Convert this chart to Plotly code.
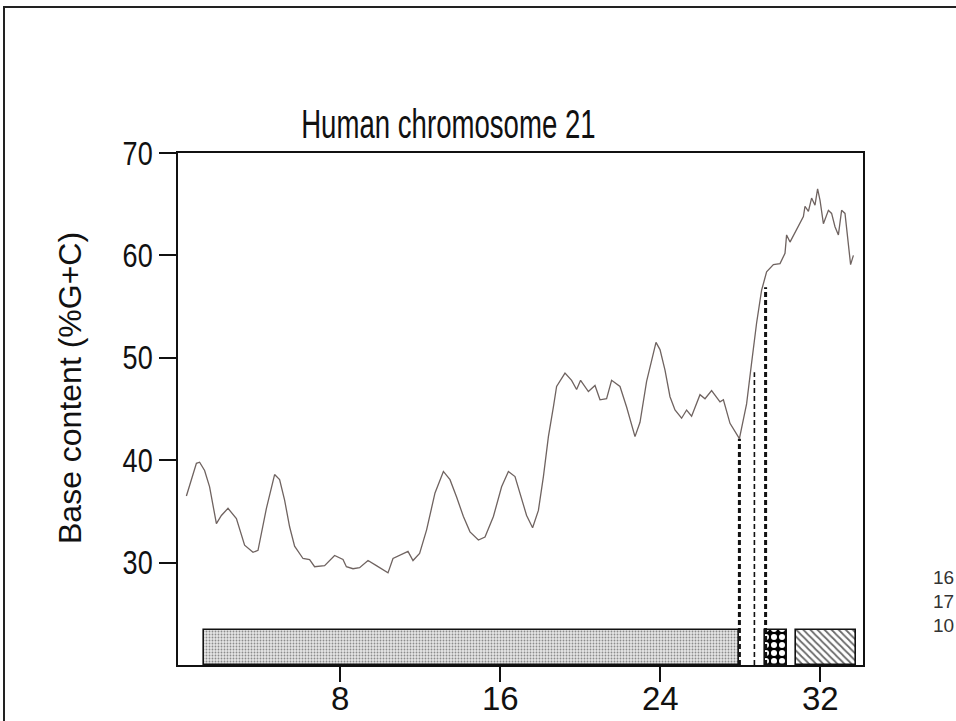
import json
import plotly.graph_objects as go

# G+C profile along human chromosome 21 (position in Mb, percent G+C)
position_mb = [
    0.32, 0.57, 0.82, 0.98, 1.23, 1.48, 1.82, 2.07, 2.40, 2.82,
    3.23, 3.65, 3.90, 4.32, 4.73, 4.98, 5.23, 5.48, 5.73, 6.15,
    6.48, 6.73, 7.23, 7.73, 8.15, 8.32, 8.65, 8.98, 9.40, 9.82,
    10.40, 10.65, 10.98, 11.40, 11.65, 11.98, 12.33, 12.75, 13.17, 13.50,
    13.83, 14.17, 14.50, 14.92, 15.25, 15.67, 16.08, 16.42, 16.75, 17.00,
    17.33, 17.63, 17.92, 18.17, 18.42, 18.67, 18.83, 19.25, 19.58, 19.83,
    20.03, 20.42, 20.75, 21.00, 21.33, 21.58, 22.00, 22.33, 22.75, 23.00,
    23.33, 23.80, 24.00, 24.25, 24.50, 24.75, 25.08, 25.33, 25.58, 26.00,
    26.25, 26.58, 27.00, 27.17, 27.50, 27.97, 28.33, 28.58, 28.83, 29.08,
    29.33, 29.67, 30.00, 30.25, 30.33, 30.50, 30.83, 31.17, 31.25, 31.42,
    31.58, 31.75, 31.88, 32.00, 32.17, 32.42, 32.58, 32.75, 32.92, 33.08,
    33.25, 33.42, 33.53, 33.67,
]
gc_percent = [
    36.5, 38.1, 39.7, 39.8, 39.0, 37.4, 33.8, 34.6, 35.3, 34.3,
    31.7, 31.0, 31.2, 35.3, 38.6, 38.1, 36.1, 33.5, 31.6, 30.4,
    30.3, 29.6, 29.7, 30.7, 30.3, 29.6, 29.4, 29.5, 30.2, 29.7,
    29.0, 30.4, 30.7, 31.1, 30.2, 30.9, 33.2, 36.8, 38.9, 38.1,
    36.4, 34.5, 33.0, 32.2, 32.5, 34.5, 37.4, 38.9, 38.4, 36.8,
    34.6, 33.4, 35.1, 38.4, 42.3, 45.2, 47.2, 48.5, 47.8, 46.9,
    47.8, 46.7, 47.3, 45.9, 46.0, 47.8, 47.2, 45.2, 42.3, 43.7,
    47.7, 51.5, 50.8, 48.8, 46.2, 44.9, 44.1, 44.9, 44.3, 46.4,
    46.0, 46.8, 45.7, 45.9, 43.6, 42.1, 45.5, 49.5, 53.4, 56.6,
    58.4, 59.1, 59.2, 60.2, 62.0, 61.3, 62.5, 63.8, 64.8, 64.3,
    65.6, 64.9, 66.5, 65.4, 63.1, 64.4, 64.1, 62.8, 62.0, 64.4,
    64.1, 60.9, 59.1, 60.0,
]

# Blocks drawn along the baseline (start / end in Mb, top in %G+C)
block_start = [1.18, 29.25, 30.80]
block_end = [27.97, 30.33, 33.80]
block_top = [23.4, 23.4, 23.4]

# Dashed boundary markers (position in Mb, upper end in %G+C)
boundary_pos = [27.97, 28.72, 29.28]
boundary_top = [42.1, 48.6, 56.9]

x_ticks = [8, 16, 24, 32]
y_ticks = [30, 40, 50, 60, 70]
side_labels = ["16", "17", "10"]

Y_MIN, Y_MAX = 20, 70
X_MIN, X_MAX = -0.1, 34.15

W, H = 956, 721
L, R, T, B = 178, 93, 153, 56
PW, PH = W - L - R, H - T - B


def px_x(px):
    return (px - L) / PW


def px_y(py):
    return (H - B - py) / PH


FONT = "Liberation Sans, Arial, Helvetica, sans-serif"
TITLE = "Human chromosome 21"

fig = go.Figure()

block_styles = [
    dict(shape=".", fgcolor="#8c8c8c", bgcolor="#e6e6e6", size=3, solidity=0.3),
    dict(shape=".", fgcolor="#ffffff", bgcolor="#000000", size=8, solidity=0.45),
    dict(shape="\\", fgcolor="#6a6a6a", bgcolor="#ffffff", size=5, solidity=0.35),
]
for s, e, top, pat in zip(block_start, block_end, block_top, block_styles):
    fig.add_trace(go.Bar(
        x=[(s + e) / 2], width=[e - s], y=[top - Y_MIN], base=[Y_MIN],
        marker=dict(color="#ffffff", pattern=dict(fillmode="replace", **pat),
                    line=dict(color="#111111", width=1.6)),
        hoverinfo="skip", showlegend=False,
    ))

boundary_widths = [3, 1.6, 3]
for pos, top, w in zip(boundary_pos, boundary_top, boundary_widths):
    fig.add_trace(go.Scatter(
        x=[pos, pos], y=[Y_MIN, top], mode="lines",
        line=dict(color="#111111", width=w, dash="5px,3px"),
        hoverinfo="skip", showlegend=False,
    ))

fig.add_trace(go.Scatter(
    x=position_mb, y=gc_percent, mode="lines",
    line=dict(color="#6f6360", width=1.3),
    showlegend=False,
))

axis_common = dict(
    showline=True, linecolor="#111111", linewidth=2, mirror=True,
    ticks="outside", tickwidth=2, tickcolor="#111111", showticklabels=False,
    showgrid=False, zeroline=False, automargin=False,
)
fig.update_xaxes(range=[X_MIN, X_MAX], tickvals=x_ticks, ticklen=15, **axis_common)
fig.update_yaxes(range=[Y_MIN, Y_MAX], tickvals=y_ticks, ticklen=17, **axis_common)

annotations = [
    dict(text=TITLE, x=px_x(448), y=px_y(124),
         xref="paper", yref="paper", xanchor="center", yanchor="middle",
         showarrow=False, font=dict(family=FONT, size=40, color="#111111")),
    dict(text="Base content (%G+C)", x=px_x(70), y=px_y(388),
         xref="paper", yref="paper", xanchor="center", yanchor="middle",
         textangle=-90, showarrow=False,
         font=dict(family=FONT, size=32, color="#111111")),
]
# tick labels are placed as text next to the axis tick marks
for v in x_ticks:
    annotations.append(dict(
        text=str(v), x=v, y=px_y(698), xref="x", yref="paper",
        xanchor="center", yanchor="middle", showarrow=False,
        font=dict(family=FONT, size=33, color="#111111"),
    ))
for v in y_ticks:
    annotations.append(dict(
        text=str(v), x=px_x(155), y=v, xref="paper", yref="y",
        xanchor="right", yanchor="middle", showarrow=False,
        font=dict(family=FONT, size=33, color="#111111"),
    ))
for i, lab in enumerate(side_labels):
    annotations.append(dict(
        text=lab, x=px_x(931), y=px_y(577 + 24 * i), xref="paper", yref="paper",
        xanchor="left", yanchor="middle", showarrow=False,
        font=dict(family=FONT, size=19, color="#333333"),
    ))

fig.update_layout(
    width=W, height=H,
    margin=dict(l=L, r=R, t=T, b=B, pad=0, autoexpand=False),
    paper_bgcolor="#ffffff", plot_bgcolor="#ffffff",
    barmode="overlay", bargap=0,
    annotations=annotations,
    shapes=[dict(type="rect", xref="paper", yref="paper",
                 x0=px_x(4), x1=px_x(W + 20), y0=px_y(H + 20), y1=px_y(7),
                 line=dict(color="#222222", width=2), layer="below")],
)

# Title and y tick labels use a condensed face: narrow them horizontally,
# the title about its centre and the tick labels about their right edge.
condense_text = """
var gd = document.getElementById('{plot_id}');
var TITLE = %s, YLABELS = %s;
function condense() {
  gd.querySelectorAll('.annotation-text').forEach(function (t) {
    var s = t.textContent, k = null, right = false;
    if (s === TITLE) { k = 0.69; }
    else if (YLABELS.indexOf(s) >= 0) { k = 0.82; right = true; }
    if (k === null) return;
    var b = t.getBBox();
    var ax = right ? b.x + b.width : b.x + b.width / 2;
    t.setAttribute('transform',
      'translate(' + ax + ',0) scale(' + k + ',1) translate(' + (-ax) + ',0)');
  });
}
condense();
gd.on('plotly_afterplot', condense);
""" % (json.dumps(TITLE), json.dumps([str(v) for v in y_ticks]))

fig.write_html("out.html", post_script=condense_text)
